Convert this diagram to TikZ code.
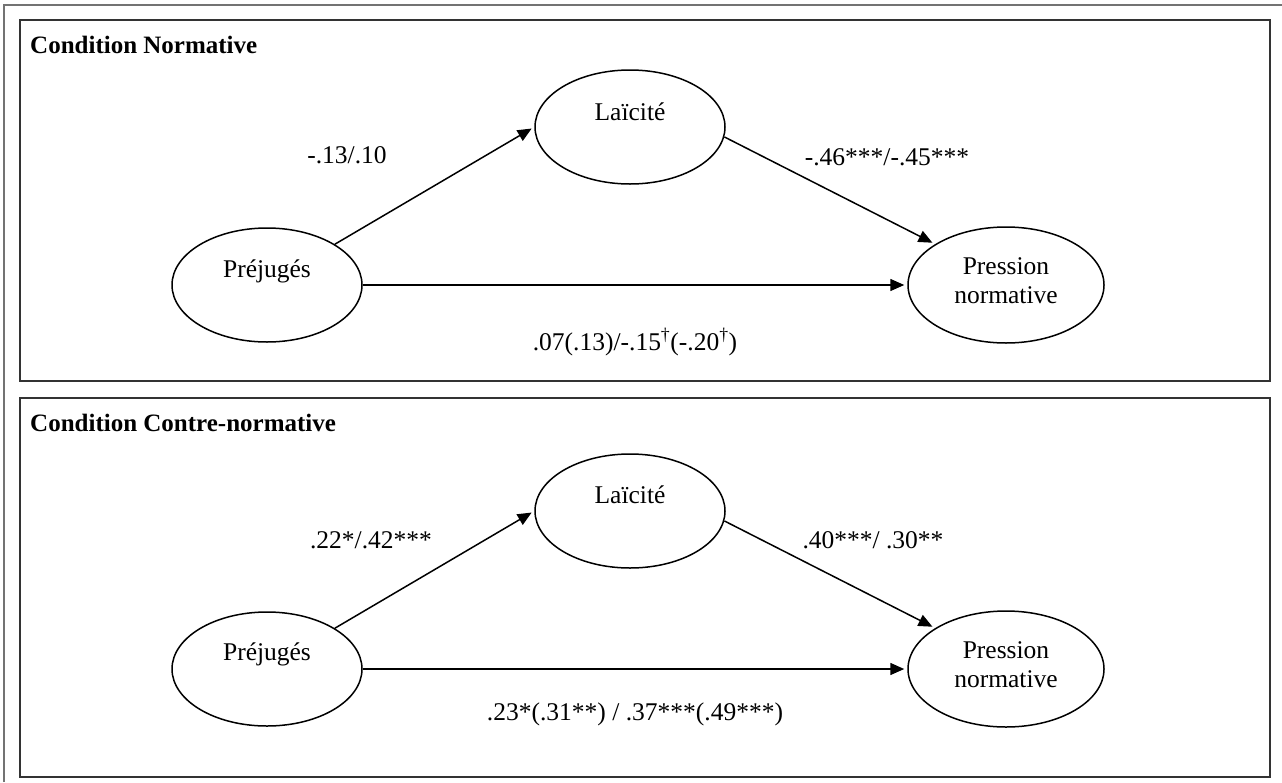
\documentclass[tikz,border=0pt]{standalone}
\usepackage{fontspec}
\setmainfont{Liberation Serif}
\usetikzlibrary{arrows.meta,shapes.geometric}
\begin{document}
\begin{tikzpicture}[x=1pt,y=-1pt,
  panel/.style={draw=black!80,line width=2.2pt},
  frame/.style={draw=black!55,line width=1.2pt},
  var/.style={draw,ellipse,line width=1.5pt,minimum width=190pt,minimum height=114pt,inner sep=0pt},
  varwide/.style={var,minimum width=196pt,minimum height=116pt},
  pathlbl/.style={anchor=base,font=\fontsize{25.5}{29}\selectfont,inner sep=0pt},
  vartxt/.style={anchor=base,font=\fontsize{25.5}{29}\selectfont,inner sep=0pt,align=center},
  ttl/.style={anchor=base west,font=\fontsize{25}{29}\selectfont\bfseries,inner sep=0pt},
  arr/.style={-{Triangle[length=14pt,width=12pt]},line width=1.5pt,shorten >=3pt}]
\useasboundingbox (0,0) rectangle (1282,782);
% outer frame (left and top only visible)
\draw[frame] (4,782) -- (4,5) -- (1282,5);
% ---------- top panel ----------
\draw[panel] (20,20) rectangle (1270,381);
\node[ttl] (t1) at (30,53) {Condition Normative};
\node[var] (P1) at (267,285) {};
\node[var] (L1) at (630,127) {};
\node[varwide] (R1) at (1006,285) {};
\node[vartxt] (P1t) at (267,277) {Préjugés};
\node[vartxt] (L1t) at (630,120) {Laïcité};
\node[vartxt,anchor=center] (R1t) at (1006,281) {Pression\\normative};
\draw[arr] (P1.31) -- (L1.west);
\draw[arr] (L1.-6) -- (R1.150);
\draw[arr] (P1.east) -- (R1.west);
\node[pathlbl] (a1) at (347,163) {-.13/.10};
\node[pathlbl] (b1) at (887,165) {-.46***/-.45***};
\node[pathlbl] (c1) at (635,350) {.07(.13)/-.15\textsuperscript{†}(-.20\textsuperscript{†})};
% ---------- bottom panel ----------
\draw[panel] (20,398) rectangle (1270,777);
\node[ttl] (t2) at (30,431) {Condition Contre-normative};
\node[var] (P2) at (267,669) {};
\node[var] (L2) at (630,511) {};
\node[varwide] (R2) at (1006,669) {};
\node[vartxt] (P2t) at (267,660) {Préjugés};
\node[vartxt] (L2t) at (630,503) {Laïcité};
\node[vartxt,anchor=center] (R2t) at (1006,665) {Pression\\normative};
\draw[arr] (P2.31) -- (L2.west);
\draw[arr] (L2.-6) -- (R2.150);
\draw[arr] (P2.east) -- (R2.west);
\node[pathlbl] (a2) at (371,548) {.22*/.42***};
\node[pathlbl] (b2) at (873,548) {.40***/ .30**};
\node[pathlbl] (c2) at (635,720) {.23*(.31**) / .37***(.49***)};
\end{tikzpicture}
\end{document}
